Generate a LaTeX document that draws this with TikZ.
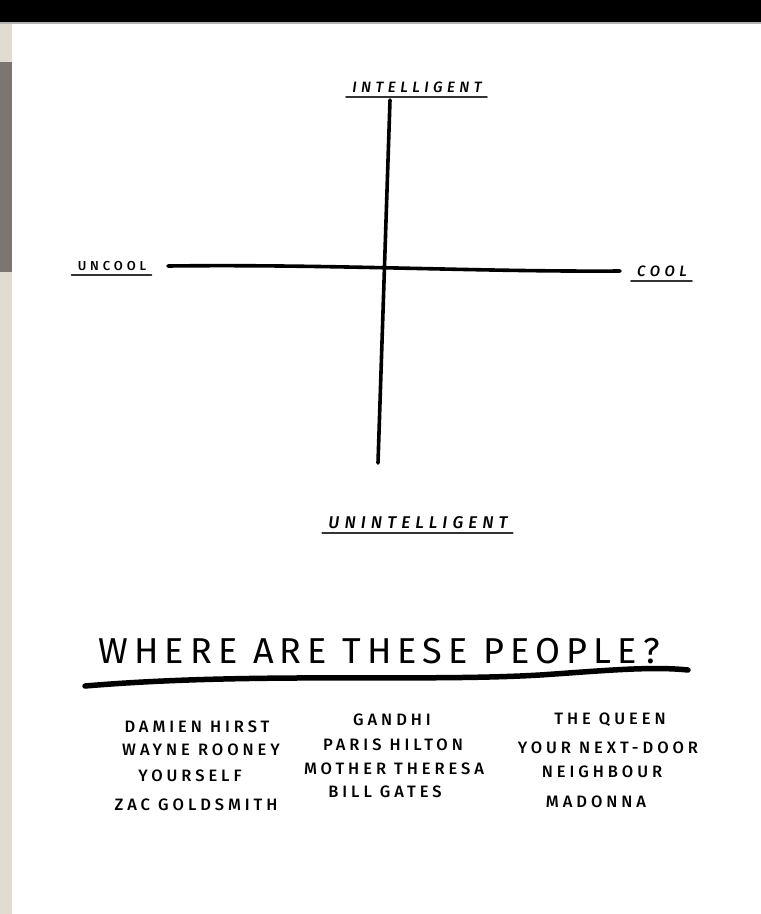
\documentclass[tikz,border=0pt]{standalone}
\usepackage{fontspec}
\usepackage{tikz}
\usetikzlibrary{positioning, calc}
\newfontfamily\handfont[LetterSpace=24]{Fira Sans Medium}
\newfontfamily\labelfont[LetterSpace=30]{Fira Sans Medium}
\newfontfamily\titlefont[LetterSpace=17]{Fira Sans}
\definecolor{paperedge}{RGB}{226,220,208}
\definecolor{spine}{RGB}{125,118,112}

\begin{document}
\begin{tikzpicture}[
    x=1pt, y=-1pt,
    axis/.style={line width=3.6pt, line cap=round},
    axlabel/.style={font=\labelfont\fontsize{15}{17}\selectfont\itshape,
        inner sep=1pt},
    uline/.style={line width=1.8pt, black!80, line cap=round},
    who/.style={font=\handfont\fontsize{16.5}{18}\selectfont, inner sep=0pt},
]
    \useasboundingbox (0,0) rectangle (761,914);
    \fill[white] (0,0) rectangle (761,914);

    % Page edges
    \fill[black] (0,0) rectangle (761,22);
    \fill[black!30] (0,22) rectangle (761,23.5);
    \fill[paperedge] (0,23.5) rectangle (12,914);
    \fill[spine] (0,62) rectangle (12,272);

    % Axes
    \coordinate (top) at (390,100);
    \coordinate (bottom) at (378,463);
    \coordinate (left) at (168,266);
    \coordinate (right) at (620,271);
    \draw[axis] (top) -- (bottom);
    \draw[axis] (left) .. controls (330,264) and (480,272) .. (right);

    % Axis labels
    \node[axlabel] (intel) at (417,87) {INTELLIGENT};
    \node[axlabel, font=\labelfont\fontsize{17}{19}\selectfont\itshape]
        (unintel) at (418,523) {UNINTELLIGENT};
    \node[axlabel, font=\labelfont\fontsize{13}{15}\selectfont] (uncool)
        at (112,266) {UNCOOL};
    \node[axlabel] (cool) at (662,271) {COOL};
    \foreach \n in {intel, unintel, uncool, cool} {
        \draw[uline] ([xshift=-5pt, yshift=-3pt]\n.south west)
            -- ([xshift=4pt, yshift=-3pt]\n.south east);
    }

    % Question
    \node[font=\titlefont\fontsize{36}{40}\selectfont] (question) at (379,651)
        {WHERE ARE THESE PEOPLE?};
    \draw[line width=5.5pt, line cap=round] (85,686)
        .. controls (250,672) and (420,682) .. (540,675)
        .. controls (600,671) and (650,666) .. (688,670);

    % People
    \foreach \name/\x/\y [count=\i] in {
        DAMIEN HIRST/197/727, WAYNE ROONEY/201/750, YOURSELF/190/776,
        ZAC GOLDSMITH/196/805, GANDHI/392/720, PARIS HILTON/393/745,
        MOTHER THERESA/394/769, BILL GATES/385/792, THE QUEEN/610/720,
        YOUR NEXT-DOOR/608/748, NEIGHBOUR/602/772, MADONNA/596/802} {
        \node[who] (p\i) at (\x,\y) {\name};
    }
\end{tikzpicture}
\end{document}
